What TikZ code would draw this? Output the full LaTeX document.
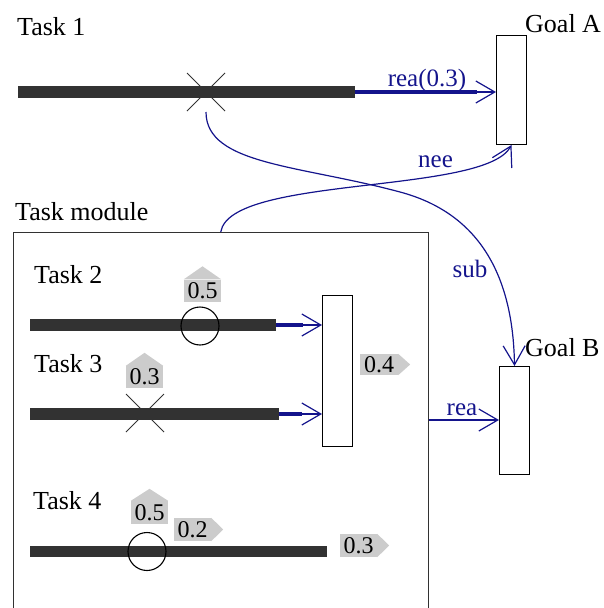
\documentclass[tikz,border=0pt]{standalone}
\usepackage{fontspec}
\setmainfont{Liberation Serif}
\usetikzlibrary{arrows.meta,calc}
\definecolor{barc}{RGB}{50,50,50}
\definecolor{linkc}{RGB}{20,20,140}
\definecolor{tagc}{RGB}{204,204,204}
\begin{document}
\begin{tikzpicture}[x=1pt,y=-1pt,
  txt/.style={font=\fontsize{26}{30}\selectfont, inner sep=0pt, anchor=base west},
  lbl/.style={font=\fontsize{25}{30}\selectfont, text=linkc, inner sep=0pt, anchor=base},
  goalbox/.style={draw=black, line width=1pt, fill=white, inner sep=0pt, anchor=north west},
  taskbar/.style={draw=barc, line width=11.5pt},
  stub/.style={draw=linkc, line width=4pt},
  link/.style={draw=linkc, line width=1.2pt, -{Straight Barb[length=19pt,width=22pt]}},
  crossmark/.style={draw=barc, line width=1pt},
  ring/.style={draw=black, line width=1.1pt},
  tag/.style={fill=tagc, font=\fontsize{24}{28}\selectfont, inner sep=0pt, minimum width=37pt, minimum height=22pt}
]
\useasboundingbox (0,0) rectangle (603,608);

% ---------- Task 1 and Goal A
\node[txt] (task1) at (17,35) {Task 1};
\node[txt] (goalAlbl) at (525,32) {Goal A};
\node[goalbox, minimum width=30pt, minimum height=109pt] (goalA) at (496,35) {};
\coordinate (t1s) at (18,92);
\coordinate (t1e) at (355,92);
\coordinate (t1b) at (477,92);
\draw[taskbar] (t1s) -- (t1e);
\draw[stub] (t1e) -- (t1b);
\draw[link] (t1b) -- (goalA.west |- t1b);
\node[lbl] (rea1) at (427,86) {rea(0.3)};
\coordinate (x1) at (206,92);
\draw[crossmark] ($(x1)+(-19,-19)$) -- ($(x1)+(19,19)$);
\draw[crossmark] ($(x1)+(-19,19)$) -- ($(x1)+(19,-19)$);
\coordinate (x1b) at (206,112);

% ---------- Task module
\node[txt] (modlbl) at (15,220) {Task module};
\node[draw=barc, line width=1.1pt, inner sep=0pt, anchor=north west,
      minimum width=415pt, minimum height=470pt] (module) at (12.7,232) {};

% ---------- Goal B
\node[txt] (goalBlbl) at (525,356) {Goal B};
\node[goalbox, minimum width=30pt, minimum height=108pt] (goalB) at (499,366) {};

% ---------- aggregator
\node[goalbox, minimum width=30pt, minimum height=151pt] (agg) at (322,295) {};

% ---------- Task 2
\node[txt] (task2) at (34,283) {Task 2};
\coordinate (t2s) at (30,325);
\coordinate (t2e) at (276,325);
\coordinate (t2b) at (303,325);
\draw[taskbar] (t2s) -- (t2e);
\draw[stub] (t2e) -- (t2b);
\draw[link] (t2b) -- (agg.west |- t2b);
\node[ring, circle, minimum size=38pt, inner sep=0pt] (c2) at (200,326) {};
\node[tag] (h2) at (202.5,290.5) {0.5};
\fill[tagc] (h2.north west) -- ($(h2.north)+(0,-13)$) -- (h2.north east) -- cycle;

% ---------- Task 3
\node[txt] (task3) at (34,372) {Task 3};
\coordinate (t3s) at (30,414);
\coordinate (t3e) at (279,414);
\coordinate (t3b) at (302,414);
\draw[taskbar] (t3s) -- (t3e);
\draw[stub] (t3e) -- (t3b);
\draw[link] (t3b) -- (agg.west |- t3b);
\coordinate (x3) at (145,413);
\draw[crossmark] ($(x3)+(-19,-19)$) -- ($(x3)+(19,19)$);
\draw[crossmark] ($(x3)+(-19,19)$) -- ($(x3)+(19,-19)$);
\node[tag] (h3) at (144.5,377) {0.3};
\fill[tagc] (h3.north west) -- ($(h3.north)+(0,-13)$) -- (h3.north east) -- cycle;

% ---------- aggregate tag
\node[tag, minimum width=38pt, minimum height=21pt] (g4) at (379,364.5) {0.4};
\fill[tagc] (g4.north east) -- ($(g4.east)+(12,0)$) -- (g4.south east) -- cycle;

% ---------- Task 4
\node[txt] (task4) at (33,509) {Task 4};
\coordinate (t4s) at (30,551.5);
\coordinate (t4e) at (327,551.5);
\draw[taskbar] (t4s) -- (t4e);
\node[ring, circle, minimum size=38pt, inner sep=0pt] (c4) at (147,551.5) {};
\node[tag, minimum height=23pt] (h4) at (149.5,512.5) {0.5};
\fill[tagc] (h4.north west) -- ($(h4.north)+(0,-12)$) -- (h4.north east) -- cycle;
\node[tag, minimum height=23pt] (g2) at (192.5,529.5) {0.2};
\fill[tagc] (g2.north east) -- ($(g2.east)+(12,0)$) -- (g2.south east) -- cycle;
\node[tag, minimum height=23pt] (g3) at (358.5,545.5) {0.3};
\fill[tagc] (g3.north east) -- ($(g3.east)+(12,0)$) -- (g3.south east) -- cycle;

% ---------- links between module and goals
\coordinate (mr) at (module.east |- 0,420);
\draw[link] (mr) -- (goalB.west |- mr);
\node[lbl] (rea2) at (462,415) {rea};

\draw[link] (module.north) .. controls (230,175) and (485,195) .. (goalA.south);
\node[lbl] (nee) at (435.5,167) {nee};

\draw[link] (x1b) .. controls (206,165) and (300,165) .. (400,192)
               .. controls (475,212) and (513,270) .. (goalB.north);
\node[lbl] (sub) at (470,277) {sub};
\end{tikzpicture}
\end{document}
